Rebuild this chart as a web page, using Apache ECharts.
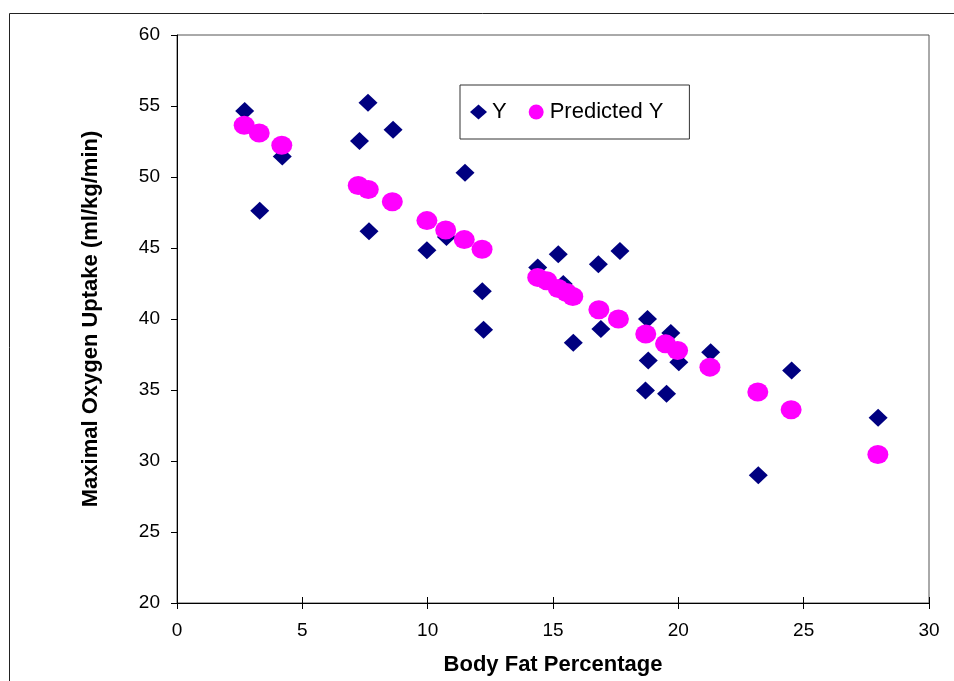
<!DOCTYPE html>
<html>
<head>
<meta charset="utf-8">
<script src="https://cdn.jsdelivr.net/npm/echarts@6/dist/echarts.min.js"></script>
<style>
html,body{margin:0;padding:0;background:#fff;}
#chart{width:954px;height:681px;}
</style>
</head>
<body>
<div id="chart"></div>
<script>
// Observed values (Body Fat %, Maximal Oxygen Uptake)
var obsX = [2.70,3.30,4.20,7.28,7.62,7.66,8.62,9.97,10.75,11.49,12.18,12.23,14.39,15.21,15.41,15.81,16.81,16.91,17.67,18.69,18.77,18.80,19.53,19.70,20.02,21.29,23.19,24.52,27.97];
var obsY = [54.64,47.62,51.45,52.53,55.23,46.18,53.33,44.84,45.78,50.30,41.96,39.25,43.63,44.56,42.46,38.32,43.86,39.30,44.79,34.97,40.00,37.07,34.74,39.02,36.96,37.66,29.00,36.37,33.05];
// Predicted values
var predX = [2.68,3.28,4.18,7.23,7.63,8.59,9.97,10.72,11.46,12.17,14.39,14.75,15.21,15.54,15.79,16.83,17.61,18.70,19.49,19.97,21.26,23.17,24.50,27.96];
var predY = [53.64,53.10,52.23,49.40,49.12,48.26,46.93,46.27,45.59,44.91,42.93,42.69,42.15,41.87,41.59,40.65,40.00,38.95,38.25,37.78,36.61,34.86,33.61,30.46];
var seriesNames = ['Y', 'Predicted Y'];
var xTitle = 'Body Fat Percentage';
var yTitle = 'Maximal Oxygen Uptake (ml/kg/min)';

function pairs(xs, ys){ return xs.map(function(v,i){ return [v, ys[i]]; }); }

var FONT = '"Liberation Sans", Arial, sans-serif';
var chart = echarts.init(document.getElementById('chart'), null, {renderer:'canvas'});
chart.setOption({
  backgroundColor: '#ffffff',
  animation: false,
  graphic: [{
    type: 'rect', silent: true, z: -10,
    shape: {x: 9.5, y: 13.5, width: 2000, height: 2000},
    style: {fill: 'none', stroke: '#222', lineWidth: 1}
  }],
  grid: {left: 177, right: 25, top: 35, bottom: 76, show: true, borderColor: '#555', borderWidth: 1, backgroundColor: 'transparent'},
  legend: {
    left: 460, top: 85, orient: 'horizontal',
    borderColor: '#333', borderWidth: 1,
    padding: [16, 26, 16, 10],
    itemWidth: 17, itemHeight: 15, itemGap: 22,
    textStyle: {fontFamily: FONT, fontSize: 22, color: '#000'},
    data: [
      {name: seriesNames[0], icon: 'diamond'},
      {name: seriesNames[1], icon: 'circle'}
    ]
  },
  xAxis: [{
    type: 'value', min: 0, max: 30, interval: 5,
    name: xTitle, nameLocation: 'middle', nameGap: 51,
    nameTextStyle: {fontFamily: FONT, fontSize: 22, fontWeight: 'bold', color: '#000'},
    axisLine: {show: true, onZero: false, lineStyle: {color: '#000', width: 1}},
    axisTick: {show: true, inside: false, length: 6, lineStyle: {color: '#000'}},
    axisLabel: {fontFamily: FONT, fontSize: 19, color: '#000', margin: 18},
    splitLine: {show: false}
  }, {
    type: 'value', min: 0, max: 30, interval: 5, position: 'bottom',
    axisLine: {show: false},
    axisTick: {show: true, inside: true, length: 6, lineStyle: {color: '#000'}},
    axisLabel: {show: false},
    splitLine: {show: false}
  }],
  yAxis: {
    type: 'value', min: 20, max: 60, interval: 5,
    name: yTitle, nameLocation: 'middle', nameGap: 75,
    nameTextStyle: {fontFamily: FONT, fontSize: 22, fontWeight: 'bold', color: '#000'},
    axisLine: {show: true, onZero: false, lineStyle: {color: '#000', width: 1}},
    axisTick: {show: true, inside: false, length: 6, lineStyle: {color: '#000'}},
    axisLabel: {fontFamily: FONT, fontSize: 19, color: '#000', margin: 17},
    splitLine: {show: false}
  },
  series: [{
    name: seriesNames[0], type: 'scatter', xAxisIndex: 0,
    symbol: 'diamond', symbolSize: [19, 18],
    itemStyle: {color: '#000080', opacity: 1},
    data: pairs(obsX, obsY), z: 2
  }, {
    name: seriesNames[1], type: 'scatter', xAxisIndex: 0,
    symbol: 'circle', symbolSize: [21, 19],
    itemStyle: {color: '#FF00FF', opacity: 1},
    data: pairs(predX, predY), z: 3
  }]
});
</script>
</body>
</html>
